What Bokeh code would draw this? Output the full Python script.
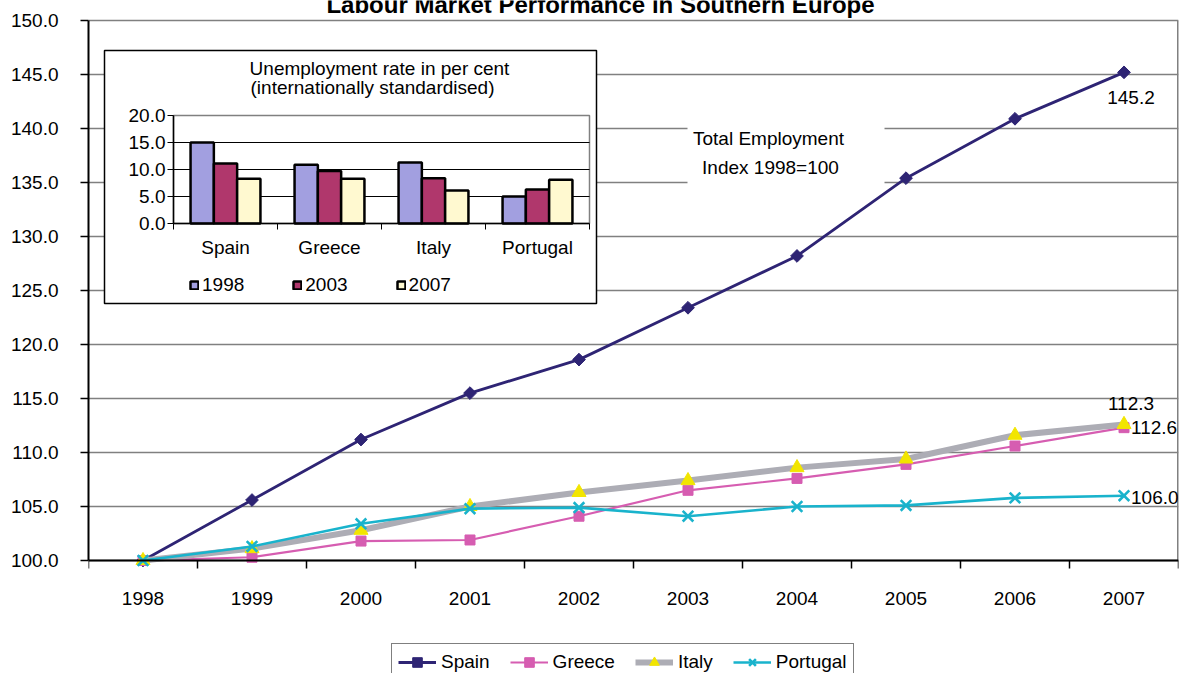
from math import pi

from bokeh.core.properties import value
from bokeh.embed import file_html
from bokeh.models import (BoxAnnotation, ColumnDataSource, FixedTicker, Label,
                          Legend, LegendItem, NumeralTickFormatter, Range1d)
from bokeh.plotting import figure
from bokeh.resources import INLINE

# ---------------------------------------------------------------- data
years = ["1998", "1999", "2000", "2001", "2002", "2003", "2004", "2005", "2006", "2007"]
spain = [100.0, 105.6, 111.2, 115.5, 118.6, 123.4, 128.2, 135.4, 140.9, 145.2]
greece = [100.0, 100.3, 101.8, 101.9, 104.1, 106.5, 107.6, 108.9, 110.6, 112.3]
italy = [100.0, 101.1, 102.8, 105.0, 106.3, 107.4, 108.6, 109.4, 111.6, 112.6]
portugal = [100.0, 101.3, 103.4, 104.8, 104.9, 104.1, 105.0, 105.1, 105.8, 106.0]
y_ticks = [100, 105, 110, 115, 120, 125, 130, 135, 140, 145, 150]

countries = ["Spain", "Greece", "Italy", "Portugal"]
unemp_years = ["1998", "2003", "2007"]
unemp_1998 = [15.0, 10.9, 11.3, 5.0]
unemp_2003 = [11.1, 9.7, 8.4, 6.3]
unemp_2007 = [8.3, 8.3, 6.1, 8.1]
inset_ticks = [0, 5, 10, 15, 20]

# ---------------------------------------------------------------- style
FONT = "Liberation Sans"
FS = "19px"
SPAIN_C = "#2E2474"
GREECE_C = "#D65DB1"
ITALY_LINE_C = "#ADADB5"
ITALY_MARK_C = "#F2E500"
PORTUGAL_C = "#19B3CC"
GRID_C = "#808080"
BAR_COLORS = ["#A29FE0", "#B0376C", "#FFF9D0"]

# page geometry (pixels): the frame covers the page from FL to FR and from
# top to bottom; the value axis spans AX_T..AX_B, the category axis sits at AX_B
W, H = 1180, 673
FL, FR = 88, 1178
AX_T, AX_B = 20, 560
# inset plot area (pixels) and its box
IL, IR, IT, IB = 173, 589, 115, 223
BOX_L, BOX_R, BOX_T, BOX_B = 104, 596, 50, 303

n = len(years)
xs = [i + 0.5 for i in range(n)]
y_lo, y_hi = y_ticks[0], y_ticks[-1]
px_per_unit = (AX_B - AX_T) / (y_hi - y_lo)
y_start = y_lo - (H - AX_B) / px_per_unit
y_end = y_hi + AX_T / px_per_unit

p = figure(width=W, height=H, output_backend="svg", toolbar_location=None,
           x_range=Range1d(0, n), y_range=Range1d(y_start, y_end),
           min_border_left=FL, min_border_right=W - FR,
           min_border_top=0, min_border_bottom=0)
p.background_fill_color = "white"
p.border_fill_color = "white"
p.outline_line_color = None

# pixel ranges for decorations, and scales for the inset bar chart
inset_unit_x = (IR - IL) / len(countries)
inset_unit_y = (IB - IT) / inset_ticks[-1]
p.extra_x_ranges = {
    "px": Range1d(FL, FR),
    "ix": Range1d(-0.5 - (IL - FL) / inset_unit_x, len(countries) - 0.5 + (FR - IR) / inset_unit_x),
}
p.extra_y_ranges = {
    "py": Range1d(H, 0),
    "iy": Range1d(-(H - IB) / inset_unit_y, inset_ticks[-1] + IT / inset_unit_y),
}

# ---------------------------------------------------------------- axes
xax = p.xaxis[0]
xax.fixed_location = y_lo
xax.ticker = FixedTicker(ticks=xs, minor_ticks=list(range(n + 1)))
xax.major_label_overrides = {x: y for x, y in zip(xs, years)}
xax.major_tick_out = 0
xax.major_tick_in = 0
xax.minor_tick_out = 8
xax.minor_tick_in = 0
xax.minor_tick_line_color = "black"
xax.minor_tick_line_width = 1.5
xax.major_label_standoff = 23

yax = p.yaxis[0]
yax.bounds = (y_lo, y_hi)
yax.ticker = FixedTicker(ticks=y_ticks)
yax.formatter = NumeralTickFormatter(format="0.0")
yax.major_tick_out = 8
yax.major_tick_in = 0
yax.minor_tick_out = 0
yax.minor_tick_in = 0
yax.major_tick_line_color = "black"
yax.major_tick_line_width = 1.5
yax.major_label_standoff = 22

for ax in (xax, yax):
    ax.axis_line_color = "black"
    ax.axis_line_width = 2
    ax.major_label_text_font = FONT
    ax.major_label_text_font_size = FS
    ax.major_label_text_color = "black"

p.xgrid.visible = False
p.ygrid.ticker = FixedTicker(ticks=y_ticks)
p.ygrid.grid_line_color = GRID_C
p.ygrid.grid_line_width = 1.5

# right-hand border of the plot area
p.segment(x0=[n], x1=[n], y0=[y_lo], y1=[y_hi], line_color=GRID_C, line_width=3)

# ---------------------------------------------------------------- title
p.add_layout(Label(x=(FL + FR) / 2 - 33, y=4, x_range_name="px", y_range_name="py",
                   text="Labour Market Performance in Southern Europe",
                   text_font=FONT, text_font_size="24px", text_font_style="bold",
                   text_align="center", text_baseline="alphabetic", text_color="black"))

# caption box "Total Employment Index 1998=100"
p.add_layout(BoxAnnotation(left=687, right=884, top=118, bottom=192,
                           x_range_name="px", y_range_name="py",
                           fill_color="white", fill_alpha=1.0, line_color=None,
                           level="underlay"))
p.text(x=[768, 770], y=[138, 167], text=["Total Employment", "Index 1998=100"],
       x_range_name="px", y_range_name="py",
       text_font=value(FONT), text_font_size=FS, text_color="black",
       text_align="center", text_baseline="middle")

# ---------------------------------------------------------------- inset chart
p.add_layout(BoxAnnotation(left=BOX_L, right=BOX_R, top=BOX_T, bottom=BOX_B,
                           x_range_name="px", y_range_name="py",
                           fill_color="white", fill_alpha=1.0,
                           line_color="black", line_alpha=1.0, line_width=1.5,
                           level="underlay"))
p.add_layout(BoxAnnotation(left=-0.5, right=len(countries) - 0.5,
                           bottom=inset_ticks[0], top=inset_ticks[-1],
                           x_range_name="ix", y_range_name="iy",
                           fill_alpha=0, line_color=GRID_C, line_alpha=1.0, line_width=1.5,
                           level="underlay"))

inner = inset_ticks[1:-1]
p.segment(x0=[-0.5] * len(inner), x1=[len(countries) - 0.5] * len(inner), y0=inner, y1=inner,
          x_range_name="ix", y_range_name="iy", line_color="black", line_width=1)

bar_w = 0.224
bar_series = [unemp_1998, unemp_2003, unemp_2007]
bar_renderers = []
for j, (vals, col) in enumerate(zip(bar_series, BAR_COLORS)):
    src = ColumnDataSource(dict(x=[i + (j - 1) * bar_w for i in range(len(countries))],
                                top=vals))
    r = p.vbar(x="x", top="top", bottom=0, width=bar_w, source=src,
               x_range_name="ix", y_range_name="iy",
               fill_color=col, line_color="black", line_width=2.5)
    bar_renderers.append(r)

# inset axes
p.segment(x0=[-0.5, -0.5], y0=[0, 0], x1=[-0.5, len(countries) - 0.5], y1=[inset_ticks[-1], 0],
          x_range_name="ix", y_range_name="iy", line_color="black", line_width=1.5)
tick_dx = 6 / inset_unit_x
tick_dy = 6 / inset_unit_y
p.segment(x0=[-0.5 - tick_dx] * len(inset_ticks), x1=[-0.5] * len(inset_ticks),
          y0=inset_ticks, y1=inset_ticks,
          x_range_name="ix", y_range_name="iy", line_color="black", line_width=1)
bounds = [i - 0.5 for i in range(len(countries) + 1)]
p.segment(x0=bounds, x1=bounds, y0=[0] * len(bounds), y1=[-tick_dy] * len(bounds),
          x_range_name="ix", y_range_name="iy", line_color="black", line_width=1)
p.text(x=[-0.5] * len(inset_ticks), y=inset_ticks, text=[f"{t:.1f}" for t in inset_ticks],
       x_offset=-8, x_range_name="ix", y_range_name="iy",
       text_font=value(FONT), text_font_size=FS, text_color="black",
       text_align="right", text_baseline="middle")
p.text(x=list(range(len(countries))), y=[0] * len(countries), text=countries,
       y_offset=24, x_range_name="ix", y_range_name="iy",
       text_font=value(FONT), text_font_size=FS, text_color="black",
       text_align="center", text_baseline="middle")
p.text(x=[379, 372], y=[68, 87],
       text=["Unemployment rate in per cent", "(internationally standardised)"],
       x_range_name="px", y_range_name="py",
       text_font=value(FONT), text_font_size=FS, text_color="black",
       text_align="center", text_baseline="middle")

inset_legend = Legend(items=[LegendItem(label=y, renderers=[r])
                             for y, r in zip(unemp_years, bar_renderers)],
                      orientation="horizontal", location=(101, H - 296),
                      glyph_width=10, glyph_height=10, label_height=10,
                      label_standoff=3, spacing=48, padding=0, margin=0,
                      border_line_color=None, background_fill_alpha=0,
                      label_text_font=FONT, label_text_font_size=FS,
                      label_text_color="black")
p.add_layout(inset_legend)

# ---------------------------------------------------------------- series
src = ColumnDataSource(dict(x=xs, spain=spain, greece=greece, italy=italy, portugal=portugal))

sp_l = p.line("x", "spain", source=src, line_color=SPAIN_C, line_width=2.8)
sp_m = p.scatter("x", "spain", source=src, marker="square", angle=pi / 4, size=9,
                 fill_color=SPAIN_C, line_color=SPAIN_C)
gr_l = p.line("x", "greece", source=src, line_color=GREECE_C, line_width=2.2)
gr_m = p.scatter("x", "greece", source=src, marker="square", size=10,
                 fill_color=GREECE_C, line_color=GREECE_C)
it_l = p.line("x", "italy", source=src, line_color=ITALY_LINE_C, line_width=6)
it_m = p.scatter("x", "italy", source=src, marker="triangle", size=14,
                 fill_color=ITALY_MARK_C, line_color=ITALY_MARK_C)
pt_l = p.line("x", "portugal", source=src, line_color=PORTUGAL_C, line_width=2.6)
pt_m = p.scatter("x", "portugal", source=src, marker="x", size=15,
                 line_color=PORTUGAL_C, line_width=2.6)

# end-of-series value labels
last = xs[-1]
label_kw = dict(text_font=value(FONT), text_font_size=FS, text_color="black",
                text_baseline="middle")
p.text(x=[last], y=[spain[-1]], text=[f"{spain[-1]:.1f}"], x_offset=7, y_offset=25,
       text_align="center", **label_kw)
p.text(x=[last], y=[greece[-1]], text=[f"{greece[-1]:.1f}"], x_offset=7, y_offset=-24,
       text_align="center", **label_kw)
p.text(x=[last], y=[italy[-1]], text=[f"{italy[-1]:.1f}"], x_offset=7, y_offset=3,
       text_align="left", **label_kw)
p.text(x=[last], y=[portugal[-1]], text=[f"{portugal[-1]:.1f}"], x_offset=7, y_offset=2,
       text_align="left", **label_kw)

# series legend under the category axis, boxed
main_legend = Legend(items=[LegendItem(label="Spain", renderers=[sp_l, sp_m]),
                            LegendItem(label="Greece", renderers=[gr_l, gr_m]),
                            LegendItem(label="Italy", renderers=[it_l, it_m]),
                            LegendItem(label="Portugal", renderers=[pt_l, pt_m])],
                     orientation="horizontal", location=(303, -8),
                     glyph_width=38, glyph_height=24, label_height=10,
                     label_standoff=5, spacing=20, padding=6, margin=0,
                     border_line_color="black", border_line_width=1.2,
                     background_fill_color="white", background_fill_alpha=1,
                     label_text_font=FONT, label_text_font_size=FS,
                     label_text_color="black")
p.add_layout(main_legend)

open("out.html", "w").write(file_html(p, INLINE))
